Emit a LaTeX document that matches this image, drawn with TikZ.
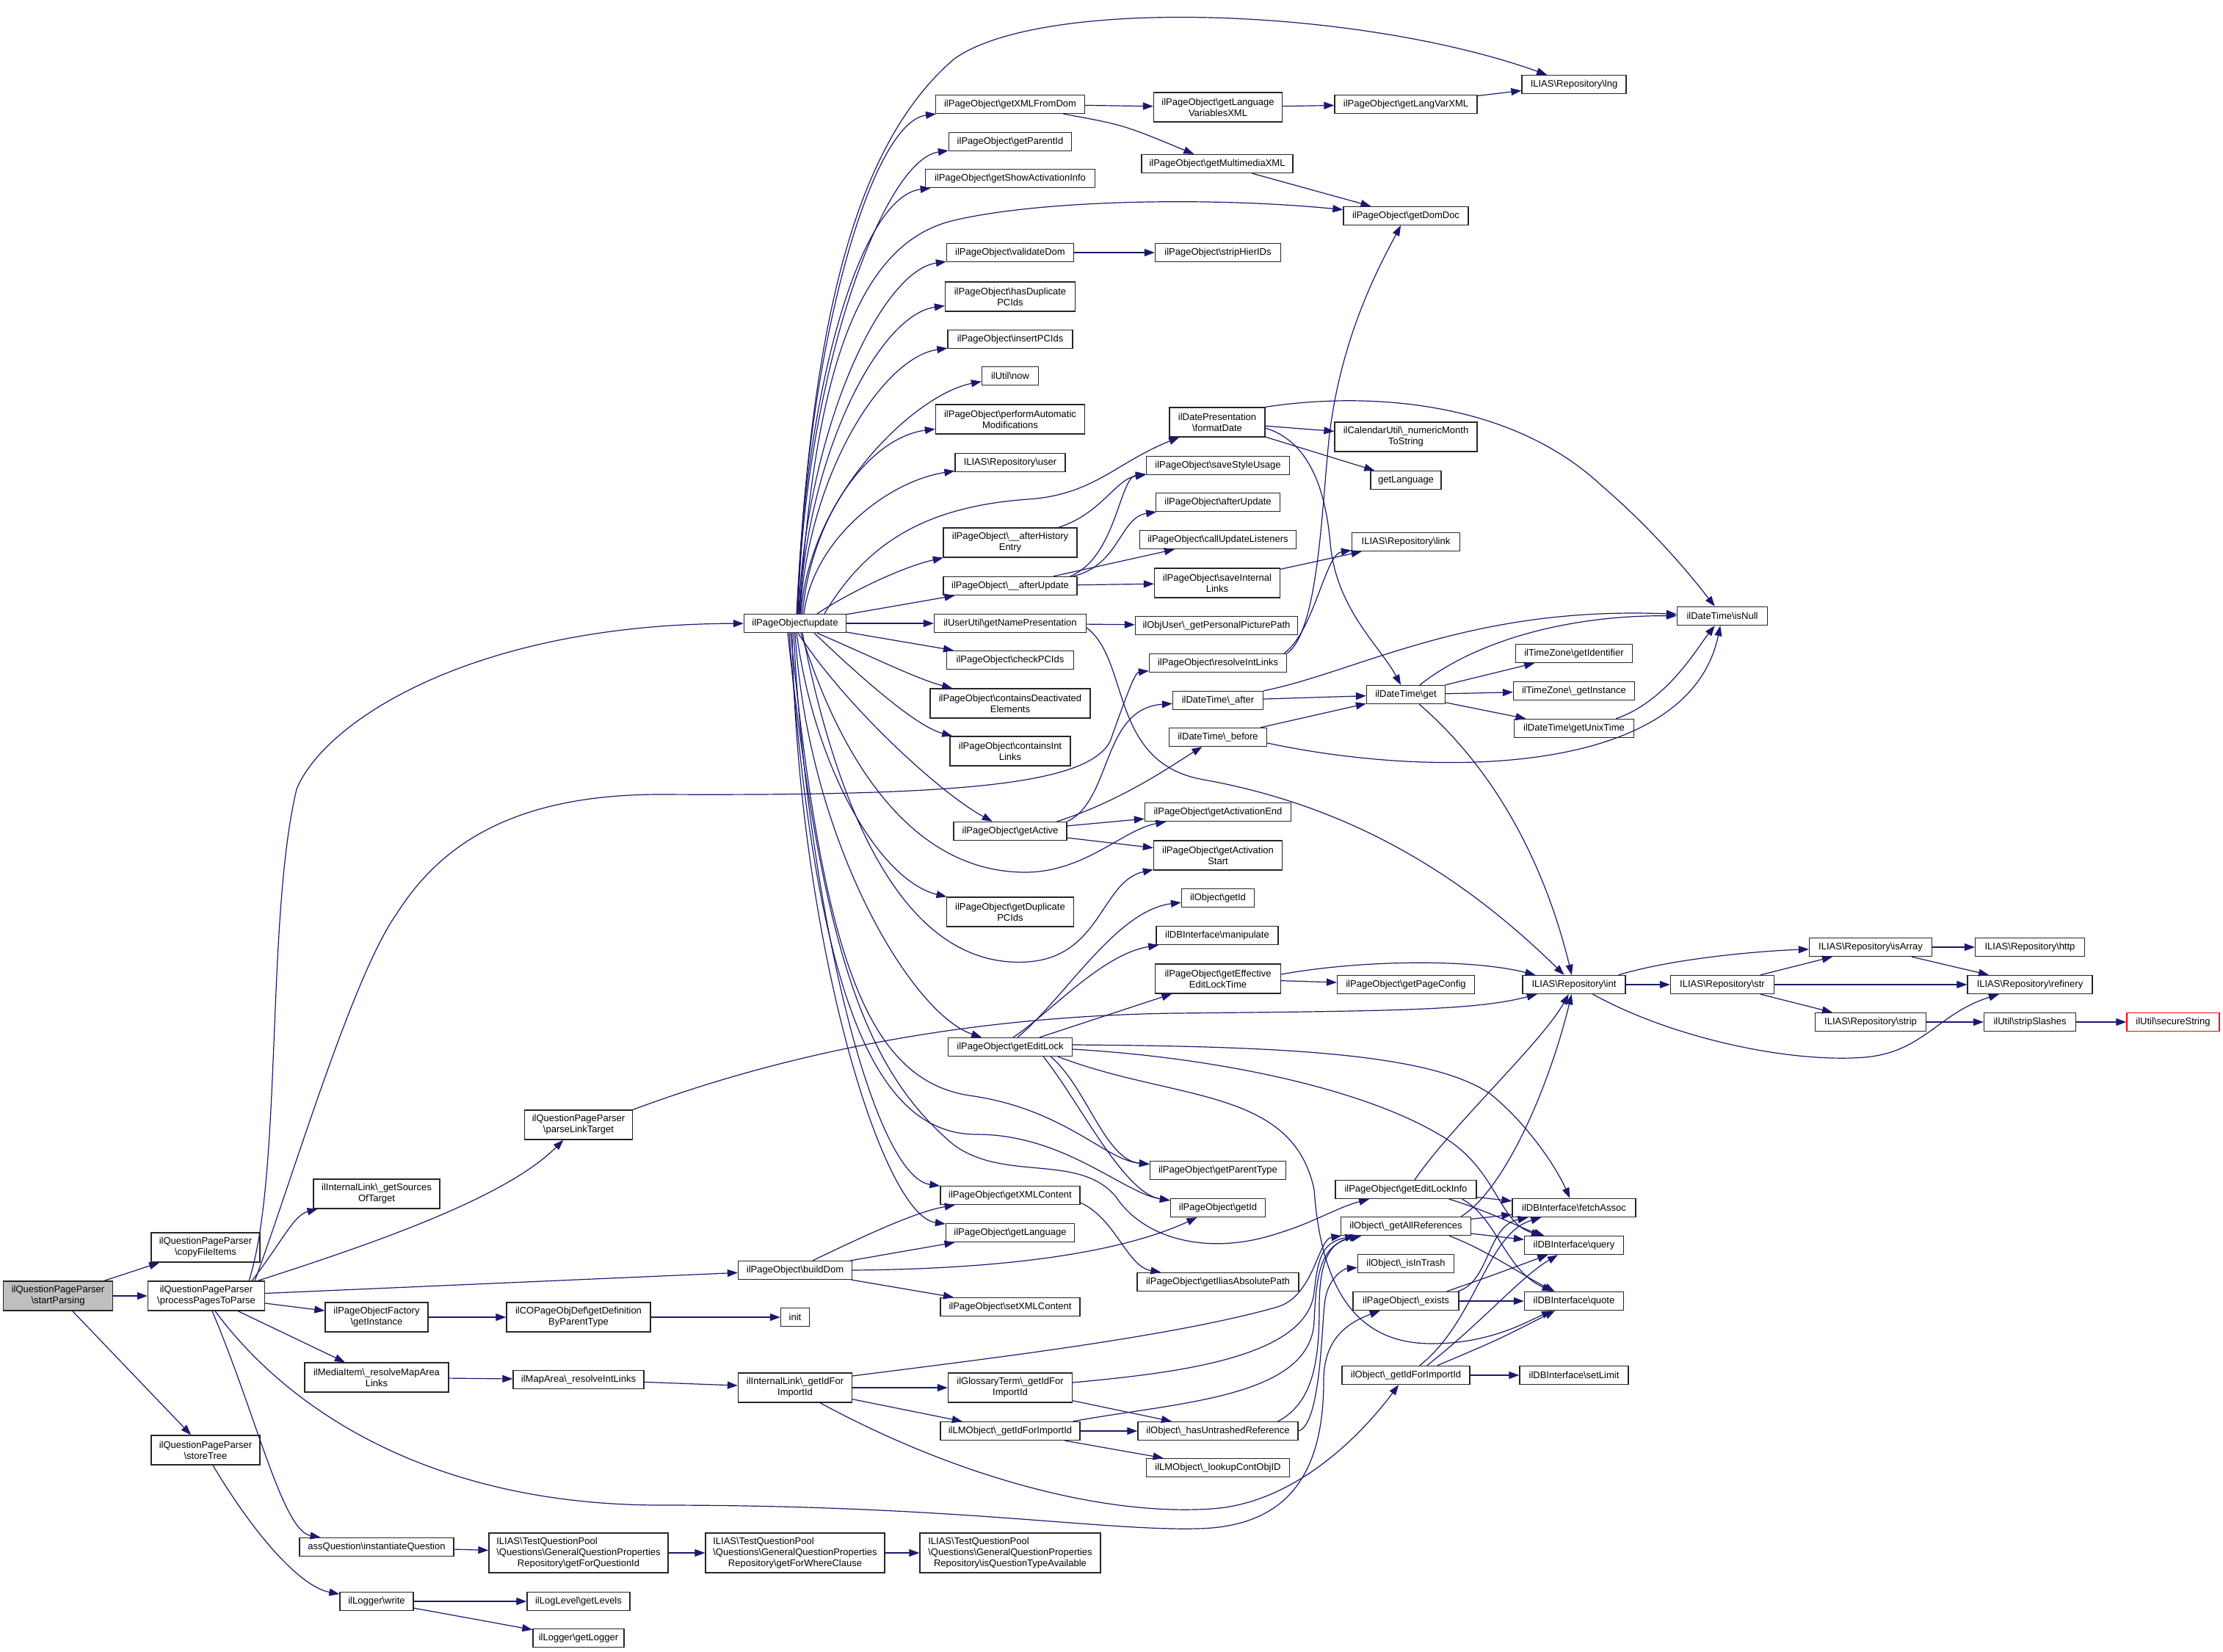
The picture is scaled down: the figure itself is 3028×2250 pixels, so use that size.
\documentclass[tikz,border=0pt]{standalone}
\usepackage{fontspec}
\setmainfont{Liberation Sans}
\usetikzlibrary{arrows.meta}
\definecolor{edgec}{HTML}{191970}
\definecolor{gfill}{HTML}{BFBFBF}
\newcommand{\bkslash}{\textbackslash}
\newcommand{\tqp}[1]{\makebox[0pt][l]{ILIAS\bkslash TestQuestionPool}\phantom{\bkslash Questions\bkslash GeneralQuestionProperties}\\\bkslash Questions\bkslash GeneralQuestionProperties\\Repository\bkslash #1}
\begin{document}
\begin{tikzpicture}[x=1pt,y=-1pt,
  box/.style={draw=black!85, line width=1.3pt, fill=white, inner sep=0pt, align=center, font=\fontsize{13}{15}\selectfont, minimum height=25},
  h2/.style={minimum height=40},
  h3/.style={minimum height=54},
  ed/.style={draw=edgec, line width=1.2pt, -{Triangle[length=14pt,width=10pt]}}]
\useasboundingbox (0,0) rectangle (3028,2250);
% column 0-1
\node[box,h2,fill=gfill,minimum width=149] (sp) at (79,1765) {ilQuestionPageParser\\\bkslash startParsing};
\node[box,h2,minimum width=148] (cfi) at (280,1699) {ilQuestionPageParser\\\bkslash copyFileItems};
\node[box,h2,minimum width=159] (pptp) at (281,1765) {ilQuestionPageParser\\\bkslash processPagesToParse};
\node[box,h2,minimum width=148] (st) at (280,1975) {ilQuestionPageParser\\\bkslash storeTree};
% column 2
\node[box,h2,minimum width=172] (gsot) at (513,1626) {ilInternalLink\bkslash\_getSources\\OfTarget};
\node[box,h2,minimum width=140] (pof) at (513,1794) {ilPageObjectFactory\\\bkslash getInstance};
\node[box,h2,minimum width=196] (mi) at (513,1876) {ilMediaItem\bkslash\_resolveMapArea\\Links};
\node[box,minimum width=210] (aq) at (513,2107) {assQuestion\bkslash instantiateQuestion};
\node[box,minimum width=100] (lw) at (513,2181) {ilLogger\bkslash write};
% column 3
\node[box,h2,minimum width=147] (plt) at (788,1532) {ilQuestionPageParser\\\bkslash parseLinkTarget};
\node[box,h2,minimum width=196] (cop) at (788,1794) {ilCOPageObjDef\bkslash getDefinition\\ByParentType};
\node[box,minimum width=178] (ma) at (788,1879) {ilMapArea\bkslash\_resolveIntLinks};
\node[box,h3,minimum width=244] (gfq) at (788,2115) {\tqp{getForQuestionId}};
\node[box,minimum width=140] (gll) at (788,2181) {ilLogLevel\bkslash getLevels};
\node[box,minimum width=124] (glg) at (788,2231) {ilLogger\bkslash getLogger};
% column 4
\node[box,minimum width=139] (upd) at (1083,849) {ilPageObject\bkslash update};
\node[box,minimum width=155] (bd) at (1083,1730) {ilPageObject\bkslash buildDom};
\node[box,minimum width=39] (init) at (1083,1794) {init};
\node[box,h2,minimum width=155] (ilgi) at (1083,1890) {ilInternalLink\bkslash\_getIdFor\\ImportId};
\node[box,h3,minimum width=244] (gfw) at (1083,2115) {\tqp{getForWhereClause}};
% column 5
\node[box,minimum width=203] (gxfd) at (1376,142) {ilPageObject\bkslash getXMLFromDom};
\node[box,minimum width=167] (gpi) at (1376,193) {ilPageObject\bkslash getParentId};
\node[box,minimum width=231] (gsai) at (1376,243) {ilPageObject\bkslash getShowActivationInfo};
\node[box,minimum width=173] (vd) at (1376,344) {ilPageObject\bkslash validateDom};
\node[box,h2,minimum width=177] (hdp) at (1376,404) {ilPageObject\bkslash hasDuplicate\\PCIds};
\node[box,minimum width=170] (ipc) at (1376,462) {ilPageObject\bkslash insertPCIds};
\node[box,minimum width=77] (now) at (1376,512) {ilUtil\bkslash now};
\node[box,h2,minimum width=203] (pam) at (1376,571) {ilPageObject\bkslash performAutomatic\\Modifications};
\node[box,minimum width=150] (usr) at (1376,630) {ILIAS\bkslash Repository\bkslash user};
\node[box,h2,minimum width=182] (ahe) at (1376,739) {ilPageObject\bkslash\_\_afterHistory\\Entry};
\node[box,minimum width=182] (au) at (1376,798) {ilPageObject\bkslash\_\_afterUpdate};
\node[box,minimum width=207] (gnp) at (1376,849) {ilUserUtil\bkslash getNamePresentation};
\node[box,minimum width=173] (cpc) at (1376,899) {ilPageObject\bkslash checkPCIds};
\node[box,h2,minimum width=218] (cde) at (1376,958) {ilPageObject\bkslash containsDeactivated\\Elements};
\node[box,h2,minimum width=164] (cil) at (1376,1023) {ilPageObject\bkslash containsInt\\Links};
\node[box,minimum width=154] (ga) at (1376,1132) {ilPageObject\bkslash getActive};
\node[box,h2,minimum width=173] (gdp) at (1376,1242) {ilPageObject\bkslash getDuplicate\\PCIds};
\node[box,minimum width=169] (gel) at (1376,1426) {ilPageObject\bkslash getEditLock};
\node[box,minimum width=190] (gxc) at (1376,1628) {ilPageObject\bkslash getXMLContent};
\node[box,minimum width=175] (glang) at (1376,1679) {ilPageObject\bkslash getLanguage};
\node[box,minimum width=190] (sxc) at (1376,1780) {ilPageObject\bkslash setXMLContent};
\node[box,h2,minimum width=169] (ggt) at (1376,1890) {ilGlossaryTerm\bkslash\_getIdFor\\ImportId};
\node[box,minimum width=190] (lmo) at (1376,1949) {ilLMObject\bkslash\_getIdForImportId};
\node[box,h3,minimum width=246] (iqt) at (1376,2115) {\tqp{isQuestionTypeAvailable}};
% column 6
\node[box,h2,minimum width=175] (glvx) at (1659,146) {ilPageObject\bkslash getLanguage\\VariablesXML};
\node[box,minimum width=206] (gmx) at (1658,223) {ilPageObject\bkslash getMultimediaXML};
\node[box,minimum width=171] (shi) at (1659,344) {ilPageObject\bkslash stripHierIDs};
\node[box,h2,minimum width=130] (fd) at (1658,575) {ilDatePresentation\\\bkslash formatDate};
\node[box,minimum width=195] (ssu) at (1659,634) {ilPageObject\bkslash saveStyleUsage};
\node[box,minimum width=169] (aup) at (1659,684) {ilPageObject\bkslash afterUpdate};
\node[box,minimum width=213] (cul) at (1659,735) {ilPageObject\bkslash callUpdateListeners};
\node[box,h2,minimum width=171] (sil) at (1658,794) {ilPageObject\bkslash saveInternal\\Links};
\node[box,minimum width=221] (gpp) at (1657,852) {ilObjUser\bkslash\_getPersonalPicturePath};
\node[box,minimum width=187] (ril) at (1659,903) {ilPageObject\bkslash resolveIntLinks};
\node[box,minimum width=123] (dta) at (1659,954) {ilDateTime\bkslash\_after};
\node[box,minimum width=133] (dtb) at (1659,1004) {ilDateTime\bkslash\_before};
\node[box,minimum width=199] (gae) at (1659,1106) {ilPageObject\bkslash getActivationEnd};
\node[box,h2,minimum width=175] (gas) at (1659,1165) {ilPageObject\bkslash getActivation\\Start};
\node[box,minimum width=99] (ogi) at (1659,1223) {ilObject\bkslash getId};
\node[box,minimum width=166] (man) at (1658,1274) {ilDBInterface\bkslash manipulate};
\node[box,h2,minimum width=171] (geelt) at (1659,1333) {ilPageObject\bkslash getEffective\\EditLockTime};
\node[box,minimum width=185] (gpt) at (1659,1594) {ilPageObject\bkslash getParentType};
\node[box,minimum width=129] (pgi) at (1659,1645) {ilPageObject\bkslash getId};
\node[box,minimum width=220] (giap) at (1659,1746) {ilPageObject\bkslash getIliasAbsolutePath};
\node[box,minimum width=218] (hur) at (1659,1949) {ilObject\bkslash\_hasUntrashedReference};
\node[box,minimum width=195] (lco) at (1659,1999) {ilLMObject\bkslash\_lookupContObjID};
% column 7
\node[box,minimum width=194] (lvx) at (1915,142) {ilPageObject\bkslash getLangVarXML};
\node[box,minimum width=170] (gdd) at (1915,294) {ilPageObject\bkslash getDomDoc};
\node[box,h2,minimum width=194] (nms) at (1915,595) {ilCalendarUtil\bkslash\_numericMonth\\ToString};
\node[box,minimum width=96] (gl2) at (1915,654) {getLanguage};
\node[box,minimum width=147] (lnk) at (1915,738) {ILIAS\bkslash Repository\bkslash link};
\node[box,minimum width=107] (dtg) at (1915,946) {ilDateTime\bkslash get};
\node[box,minimum width=187] (gpc) at (1915,1341) {ilPageObject\bkslash getPageConfig};
\node[box,minimum width=192] (geli) at (1915,1620) {ilPageObject\bkslash getEditLockInfo};
\node[box,minimum width=177] (gar) at (1915,1670) {ilObject\bkslash\_getAllReferences};
\node[box,minimum width=131] (iit) at (1915,1721) {ilObject\bkslash\_isInTrash};
\node[box,minimum width=144] (ex) at (1915,1772) {ilPageObject\bkslash\_exists};
\node[box,minimum width=174] (ogifi) at (1915,1873) {ilObject\bkslash\_getIdForImportId};
% column 8
\node[box,minimum width=142] (lng) at (2144,115) {ILIAS\bkslash Repository\bkslash lng};
\node[box,minimum width=159] (tzi) at (2144,890) {ilTimeZone\bkslash getIdentifier};
\node[box,minimum width=165] (tzg) at (2144,941) {ilTimeZone\bkslash\_getInstance};
\node[box,minimum width=163] (gut) at (2144,992) {ilDateTime\bkslash getUnixTime};
\node[box,minimum width=140] (int) at (2144,1341) {ILIAS\bkslash Repository\bkslash int};
\node[box,minimum width=168] (fa) at (2144,1645) {ilDBInterface\bkslash fetchAssoc};
\node[box,minimum width=135] (qry) at (2144,1696) {ilDBInterface\bkslash query};
\node[box,minimum width=135] (qt) at (2144,1772) {ilDBInterface\bkslash quote};
\node[box,minimum width=148] (sl) at (2144,1873) {ilDBInterface\bkslash setLimit};
% columns 9-12
\node[box,minimum width=123] (isn) at (2346,839) {ilDateTime\bkslash isNull};
\node[box,minimum width=141] (str) at (2346,1341) {ILIAS\bkslash Repository\bkslash str};
\node[box,minimum width=167] (isa) at (2548,1290) {ILIAS\bkslash Repository\bkslash isArray};
\node[box,minimum width=151] (stp) at (2548,1392) {ILIAS\bkslash Repository\bkslash strip};
\node[box,minimum width=149] (http) at (2765,1290) {ILIAS\bkslash Repository\bkslash http};
\node[box,minimum width=170] (ref) at (2765,1341) {ILIAS\bkslash Repository\bkslash refinery};
\node[box,minimum width=125] (ss) at (2765,1392) {ilUtil\bkslash stripSlashes};
\node[box,draw=red,minimum width=126] (sec) at (2960,1392) {ilUtil\bkslash secureString};

% ===== edges =====
\draw[ed] (sp) -- (cfi);
\draw[ed] (sp) -- (pptp);
\draw[ed] (sp) -- (st);
% processPagesToParse
\draw[ed] ([xshift=-22]pptp.north east) .. controls (385,1600) and (362,1250) .. (404,1075) .. controls (440,985) and (640,850) .. (upd);
\draw[ed] ([xshift=-14]pptp.north east) .. controls (400,1600) and (480,1330) .. (540,1245) .. controls (600,1150) and (700,1082) .. (900,1082) .. controls (1300,1084) and (1480,1070) .. (1512,1010) .. controls (1530,960) and (1545,916) .. (ril);
\draw[ed] ([xshift=-18]pptp.north east) .. controls (385,1690) and (400,1655) .. (gsot);
\draw[ed] ([xshift=-10]pptp.north east) .. controls (520,1690) and (690,1630) .. (plt);
\draw[ed] (pptp) -- (bd);
\draw[ed] (pptp) -- (pof);
\draw[ed] (pptp) -- (mi);
\draw[ed] ([xshift=8]pptp.south) .. controls (350,1930) and (385,2085) .. (aq);
\draw[ed] ([xshift=12]pptp.south) .. controls (400,1930) and (600,2050) .. (900,2050) .. controls (1300,2050) and (1500,2085) .. (1630,2082) .. controls (1760,2080) and (1803,2000) .. (1803,1880) .. controls (1803,1820) and (1840,1800) .. (ex);
\draw[ed] ([xshift=10]st.south) .. controls (340,2080) and (405,2160) .. (lw);
\draw[ed] (pof) -- (cop);
\draw[ed] (cop) -- (init);
\draw[ed] (mi) -- (ma);
\draw[ed] (ma) -- (ilgi);
\draw[ed] (aq) -- (gfq);
\draw[ed] (gfq) -- (gfw);
\draw[ed] (gfw) -- (iqt);
\draw[ed] (lw) -- (gll);
\draw[ed] (lw) -- (glg);
\draw[ed] (plt.north east) .. controls (1000,1460) and (1250,1385) .. (1600,1380) .. controls (1900,1377) and (2010,1376) .. (int);
% update, upward
\draw[ed] ([xshift=2]upd.north) .. controls (1105,450) and (1160,200) .. (1300,80) .. controls (1420,-5) and (1850,10) .. (lng);
\draw[ed] ([xshift=4]upd.north) .. controls (1095,489) and (1184,167) .. (gxfd);
\draw[ed] ([xshift=4]upd.north) .. controls (1095,515) and (1202,218) .. (gpi);
\draw[ed] ([xshift=3]upd.north) .. controls (1095,540) and (1170,268) .. (gsai);
\draw[ed] ([xshift=6]upd.north) .. controls (1110,500) and (1170,330) .. (1300,300) .. controls (1420,272) and (1650,268) .. (gdd);
\draw[ed] ([xshift=5]upd.north) .. controls (1097,590) and (1199,369) .. (vd);
\draw[ed] ([xshift=6]upd.north) .. controls (1099,620) and (1197,429) .. (hdp);
\draw[ed] ([xshift=7]upd.north) .. controls (1100,649) and (1201,487) .. (ipc);
\draw[ed] ([xshift=8]upd.north) .. controls (1102,674) and (1247,537) .. (now);
\draw[ed] ([xshift=10]upd.north) .. controls (1105,703) and (1184,596) .. (pam);
\draw[ed] ([xshift=12]upd.north) .. controls (1108,733) and (1211,655) .. (usr);
\draw[ed] ([xshift=40]upd.north) .. controls (1180,740) and (1260,690) .. (1400,680) .. controls (1490,674) and (1520,630) .. (fd);
\draw[ed] ([xshift=30]upd.north) .. controls (1160,805) and (1230,772) .. (ahe);
\draw[ed] (upd) -- (au);
\draw[ed] (upd) -- (gnp);
\draw[ed] (upd) -- (cpc);
% update, downward
\draw[ed] ([xshift=30]upd.south) .. controls (1200,900) and (1250,925) .. (cde);
\draw[ed] ([xshift=26]upd.south) .. controls (1180,930) and (1250,990) .. (cil);
\draw[ed] ([xshift=4]upd.south) .. controls (1150,960) and (1280,1080) .. (ga);
\draw[ed] ([xshift=2]upd.south) .. controls (1110,1050) and (1200,1200) .. (gdp);
\draw[ed] (upd.south) .. controls (1100,1143) and (1240,1380) .. (gel);
\draw[ed] ([xshift=-2]upd.south) .. controls (1100,1245) and (1191,1603) .. (gxc);
\draw[ed] ([xshift=-4]upd.south) .. controls (1085,1270) and (1200,1655) .. (glang);
\draw[ed] ([xshift=8]upd.south) .. controls (1150,1050) and (1250,1190) .. (1400,1188) .. controls (1480,1186) and (1530,1130) .. (gae);
\draw[ed] ([xshift=10]upd.south) .. controls (1150,1150) and (1250,1320) .. (1400,1310) .. controls (1500,1303) and (1500,1200) .. (gas);
\draw[ed] ([xshift=-6]upd.south) .. controls (1120,1300) and (1180,1470) .. (1320,1492) .. controls (1450,1510) and (1505,1580) .. (gpt);
\draw[ed] ([xshift=-8]upd.south) .. controls (1110,1350) and (1190,1545) .. (1330,1545) .. controls (1450,1545) and (1530,1625) .. (pgi);
\draw[ed] ([xshift=-10]upd.south) .. controls (1120,1300) and (1180,1460) .. (1300,1560) .. controls (1370,1610) and (1470,1570) .. (1520,1630) .. controls (1560,1690) and (1650,1710) .. (1740,1680) .. controls (1790,1665) and (1820,1645) .. (geli);
% column 5 sources
\draw[ed] (gxfd) -- (glvx);
\draw[ed] (gxfd) .. controls (1530,170) .. (gmx);
\draw[ed] (glvx) -- (lvx);
\draw[ed] (lvx) -- (lng);
\draw[ed] (gmx) -- (gdd);
\draw[ed] (vd) -- (shi);
\draw[ed] (ahe) .. controls (1500,700) and (1520,652) .. (ssu);
\draw[ed] ([xshift=-10]au.north east) .. controls (1520,760) and (1525,650) .. (ssu);
\draw[ed] ([xshift=-6]au.north east) .. controls (1525,770) and (1525,705) .. (aup);
\draw[ed] (au) -- (cul);
\draw[ed] (au) -- (sil);
\draw[ed] (sil) -- (lnk);
\draw[ed] (gnp) -- (gpp);
\draw[ed] ([yshift=-6]gnp.east) .. controls (1540,900) and (1510,1040) .. (1640,1062) .. controls (1850,1100) and (2000,1200) .. (int);
\draw[ed] (ril.north east) .. controls (1795,860) and (1800,700) .. (1810,600) .. controls (1825,460) and (1880,360) .. (gdd);
\draw[ed] ([xshift=-4]ril.north east) .. controls (1790,860) and (1805,755) .. (lnk);
% dates
\draw[ed] (fd.north east) .. controls (1850,535) and (2050,540) .. (2180,660) .. controls (2250,720) and (2300,780) .. (isn);
\draw[ed] (fd) -- (nms);
\draw[ed] (fd) -- (gl2);
\draw[ed] ([yshift=-8]fd.east) .. controls (1780,600) and (1805,660) .. (1812,740) .. controls (1820,830) and (1880,880) .. (dtg);
\draw[ed] (dta) -- (dtg);
\draw[ed] (dtb) -- (dtg);
\draw[ed] (dta.north east) .. controls (1850,915) and (2000,825) .. (isn);
\draw[ed] ([xshift=-35]dtg.north east) .. controls (2000,880) and (2120,838) .. (isn);
\draw[ed] ([yshift=-8]dtb.east) .. controls (1950,1060) and (2300,1060) .. (isn);
\draw[ed] ([xshift=-25]gut.north east) .. controls (2270,955) and (2310,885) .. (isn);
\draw[ed] (dtg) -- (tzi);
\draw[ed] (dtg) -- (tzg);
\draw[ed] (dtg) -- (gut);
\draw[ed] ([xshift=-36]dtg.south east) .. controls (2050,1060) and (2110,1200) .. (int);
% getActive
\draw[ed] (ga) -- (gae);
\draw[ed] (ga) -- (gas);
\draw[ed] ([xshift=-14]ga.north east) .. controls (1530,1090) and (1600,1040) .. (dtb);
\draw[ed] (ga.north east) .. controls (1515,1090) and (1500,965) .. (dta);
% getEditLock
\draw[ed] ([xshift=10]gel.north) .. controls (1450,1360) and (1520,1240) .. (ogi);
\draw[ed] ([xshift=4]gel.north) .. controls (1430,1380) and (1500,1300) .. (man);
\draw[ed] (gel) -- (geelt);
\draw[ed] ([yshift=3]gel.east) .. controls (1750,1425) and (1950,1435) .. (2030,1490) .. controls (2080,1530) and (2120,1590) .. (fa);
\draw[ed] ([yshift=-3]gel.east) .. controls (1650,1440) and (1850,1480) .. (1960,1545) .. controls (2040,1590) and (2040,1665) .. (qry);
\draw[ed] ([xshift=-20]gel.south east) .. controls (1600,1500) and (1760,1480) .. (1790,1620) .. controls (1800,1760) and (1850,1830) .. (1950,1830) .. controls (2030,1830) and (2080,1800) .. (qt);
\draw[ed] ([xshift=-30]gel.south east) .. controls (1480,1480) and (1505,1580) .. (gpt);
\draw[ed] ([xshift=-40]gel.south east) .. controls (1470,1500) and (1530,1625) .. (pgi);
\draw[ed] (geelt) -- (gpc);
\draw[ed] ([yshift=6]geelt.east) .. controls (1850,1308) and (2000,1305) .. (int);
% buildDom
\draw[ed] ([xshift=24]bd.north) .. controls (1190,1677) and (1250,1650) .. (gxc);
\draw[ed] (bd) -- (glang);
\draw[ed] (bd.east) .. controls (1400,1728) and (1540,1700) .. (pgi);
\draw[ed] (bd) -- (sxc);
\draw[ed] ([yshift=-10]gxc.east) .. controls (1520,1660) and (1535,1725) .. (giap);
% import ids
\draw[ed] (ilgi) -- (ggt);
\draw[ed] (ilgi) -- (lmo);
\draw[ed] ([yshift=16]ilgi.east) .. controls (1350,1850) and (1600,1820) .. (1740,1780) .. controls (1790,1765) and (1795,1688) .. (gar);
\draw[ed] ([xshift=-44]ilgi.south east) .. controls (1300,2010) and (1500,2065) .. (1650,2055) .. controls (1760,2048) and (1850,1960) .. (ogifi);
\draw[ed] ([yshift=7]ggt.east) .. controls (1600,1870) and (1780,1850) .. (1790,1760) .. controls (1795,1715) and (1800,1692) .. (gar);
\draw[ed] (ggt) -- (hur);
\draw[ed] ([xshift=-10]lmo.north east) .. controls (1600,1910) and (1785,1905) .. (1790,1800) .. controls (1793,1730) and (1800,1695) .. (gar);
\draw[ed] (lmo) -- (hur);
\draw[ed] (lmo) -- (lco);
\draw[ed] ([xshift=-28]hur.north east) .. controls (1790,1910) and (1797,1850) .. (1797,1780) .. controls (1797,1720) and (1810,1692) .. (gar);
\draw[ed] (hur.east) .. controls (1800,1940) and (1800,1800) .. (1805,1770) .. controls (1810,1740) and (1830,1728) .. (iit);
% DB calls
\draw[ed] (geli) -- (fa);
\draw[ed] ([xshift=-38]geli.south east) .. controls (2030,1650) and (2070,1672) .. (qry);
\draw[ed] ([xshift=-20]geli.south east) .. controls (2040,1660) and (2050,1730) .. (qt);
\draw[ed] ([xshift=12]geli.north) .. controls (1980,1530) and (2100,1420) .. (int);
\draw[ed] (gar) -- (fa);
\draw[ed] (gar) -- (qry);
\draw[ed] ([xshift=-30]gar.south east) .. controls (2030,1705) and (2070,1735) .. (qt);
\draw[ed] ([xshift=-14]gar.north east) .. controls (2050,1620) and (2110,1480) .. (int);
\draw[ed] (ex) -- (qt);
\draw[ed] ([xshift=-17]ex.north east) .. controls (2030,1738) .. (qry);
\draw[ed] ([xshift=-2]ex.north east) .. controls (2030,1745) and (2025,1670) .. (fa);
\draw[ed] (ogifi) -- (sl);
\draw[ed] ([xshift=-69]ogifi.north east) .. controls (2010,1800) and (2025,1680) .. (fa);
\draw[ed] ([xshift=-59]ogifi.north east) .. controls (2020,1800) and (2070,1740) .. (qry);
\draw[ed] ([xshift=-45]ogifi.north east) .. controls (2040,1825) .. (qt);
% repository
\draw[ed] (int) -- (str);
\draw[ed] ([xshift=-10]int.north east) .. controls (2280,1305) and (2400,1295) .. (isa);
\draw[ed] ([xshift=-45]int.south east) .. controls (2280,1415) and (2440,1448) .. (2540,1440) .. controls (2620,1433) and (2640,1380) .. (ref);
\draw[ed] (str) -- (isa);
\draw[ed] (str) -- (ref);
\draw[ed] (str) -- (stp);
\draw[ed] (isa) -- (http);
\draw[ed] (isa) -- (ref);
\draw[ed] (stp) -- (ss);
\draw[ed] (ss) -- (sec);
\end{tikzpicture}
\end{document}
